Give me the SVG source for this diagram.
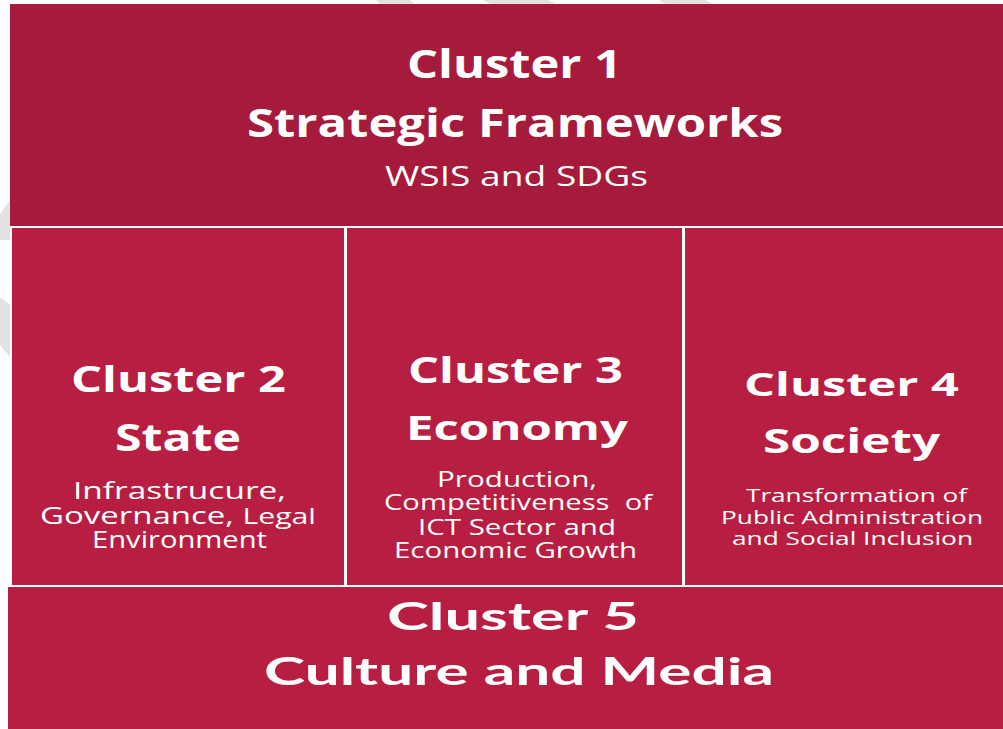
<svg xmlns="http://www.w3.org/2000/svg" width="1003" height="729" viewBox="0 0 1003 729">
  <style>
    .wm { fill: #e2e2e2; }
    .c1 { fill: #a61a3b; }
    .c2 { fill: #b71e42; }
    .h { font-family: "Open Sans", "DejaVu Sans", sans-serif; font-weight: bold; fill: #ffffff; text-anchor: middle; }
    .s { font-family: "Open Sans", "DejaVu Sans", sans-serif; font-weight: normal; fill: #ffffff; text-anchor: middle; }
    .g { font-family: "Lato", "Liberation Sans", sans-serif; font-weight: bold; fill: #ffffff; text-anchor: middle; }
  </style>
  <rect width="1003" height="729" fill="#ffffff"/>
  <g id="watermark">
    <polygon class="wm" points="0,214 10,200 10,240 0,240"/>
    <polygon class="wm" points="0,297 10,305 10,357 0,345"/>
    <polygon class="wm" points="376,0 410,0 414,4 380,4"/>
    <polygon class="wm" points="483,0 548,0 556,4 490,4"/>
    <polygon class="wm" points="659,0 705,0 713,4 665,4"/>
  </g>
  <g id="cluster1">
    <rect class="c1" x="10" y="4" width="993" height="222"/>
    <text class="h" x="514.5" y="78" font-size="39" textLength="215" lengthAdjust="spacingAndGlyphs">Cluster 1</text>
    <text class="h" x="515" y="137" font-size="39" textLength="536" lengthAdjust="spacingAndGlyphs">Strategic Frameworks</text>
    <text class="s" x="516.5" y="186" font-size="27" textLength="263" lengthAdjust="spacingAndGlyphs">WSIS and SDGs</text>
  </g>
  <g id="cluster2">
    <rect class="c2" x="12" y="228" width="332" height="357"/>
    <text class="h" x="178.5" y="392" font-size="35" textLength="215" lengthAdjust="spacingAndGlyphs">Cluster 2</text>
    <text class="h" x="178" y="451" font-size="38" textLength="126" lengthAdjust="spacingAndGlyphs">State</text>
    <text class="s" x="179.5" y="499" font-size="24" textLength="213" lengthAdjust="spacingAndGlyphs">Infrastrucure,</text>
    <text class="s" x="178" y="524" font-size="24" textLength="276" lengthAdjust="spacingAndGlyphs">Governance, <tspan font-size="22">Legal</tspan></text>
    <text class="s" x="179.5" y="548" font-size="24" textLength="175" lengthAdjust="spacingAndGlyphs">Environment</text>
  </g>
  <g id="cluster3">
    <rect class="c2" x="347" y="228" width="335" height="357"/>
    <text class="h" x="515.5" y="383" font-size="35" textLength="215" lengthAdjust="spacingAndGlyphs">Cluster 3</text>
    <text class="h" x="517" y="440" font-size="34" textLength="222" lengthAdjust="spacingAndGlyphs">Economy</text>
    <text class="s" x="517" y="487" font-size="21" textLength="160" lengthAdjust="spacingAndGlyphs">Production,</text>
    <text class="s" x="518" y="510" font-size="21" textLength="268" lengthAdjust="spacingAndGlyphs" xml:space="preserve">Competitiveness  of</text>
    <text class="s" x="517" y="535" font-size="21" textLength="198" lengthAdjust="spacingAndGlyphs">ICT Sector and</text>
    <text class="s" x="515.5" y="558" font-size="21" textLength="243" lengthAdjust="spacingAndGlyphs">Economic Growth</text>
  </g>
  <g id="cluster4">
    <rect class="c2" x="685" y="228" width="318" height="357"/>
    <text class="h" x="851.5" y="396" font-size="32" textLength="215" lengthAdjust="spacingAndGlyphs">Cluster 4</text>
    <text class="h" x="851.5" y="453" font-size="34" textLength="177" lengthAdjust="spacingAndGlyphs">Society</text>
    <text class="s" x="856.5" y="502" font-size="19" textLength="221" lengthAdjust="spacingAndGlyphs">Transformation of</text>
    <text class="s" x="852" y="524" font-size="19" textLength="262" lengthAdjust="spacingAndGlyphs">Public Administration</text>
    <text class="s" x="852.5" y="545" font-size="19" textLength="241" lengthAdjust="spacingAndGlyphs">and Social Inclusion</text>
  </g>
  <g id="cluster5">
    <rect class="c2" x="8" y="587" width="995" height="142"/>
    <text class="g" x="513" y="630" font-size="38" textLength="252" lengthAdjust="spacingAndGlyphs">Cluster 5</text>
    <text class="g" x="519" y="685" font-size="38" textLength="510" lengthAdjust="spacingAndGlyphs">Culture and Media</text>
  </g>
  <g id="connectors"></g>
</svg>
